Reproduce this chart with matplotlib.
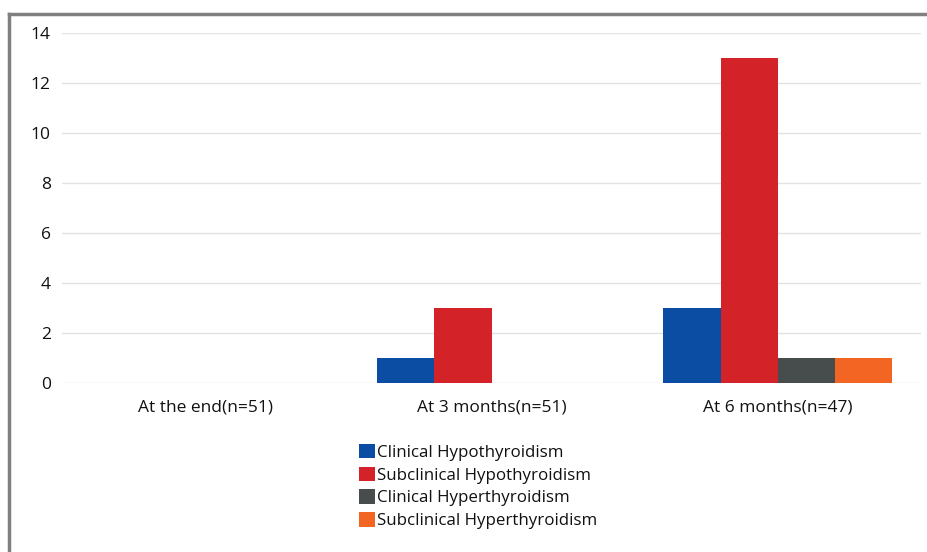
import numpy as np
import matplotlib.pyplot as plt
from matplotlib.lines import Line2D

plt.rcParams['font.family'] = ['Open Sans', 'DejaVu Sans']

categories = ['At the end(n=51)', 'At 3 months(n=51)', 'At 6 months(n=47)']
series = ['Clinical Hypothyroidism', 'Subclinical Hypothyroidism',
          'Clinical Hyperthyroidism', 'Subclinical Hyperthyroidism']
values = [
    [0, 1, 3],
    [0, 3, 13],
    [0, 0, 1],
    [0, 0, 1],
]
colors = ['#0B4DA2', '#D42229', '#474D4D', '#F26522']

fig = plt.figure(figsize=(9.27, 5.52), dpi=100)
ax = fig.add_axes([62/927, 169/552, 859/927, 350/552])

x = np.arange(len(categories))
w = 0.2
for i in range(len(series)):
    ax.bar(x + (i - 1.5)*w, values[i], w, color=colors[i], label=series[i], zorder=3)

ax.set_xlim(-0.5, 2.5)
ax.set_ylim(0, 14)
ax.set_yticks(range(0, 15, 2))
ax.set_xticks(x)
ax.set_xticklabels(categories, fontsize=12.5, color='#111111')
ax.tick_params(axis='y', labelsize=12.5, labelcolor='#111111', length=0, pad=8)
ax.tick_params(axis='x', length=0, pad=12)
ax.grid(axis='y', color='#E3E3E3', linewidth=1, zorder=0)
for s in ax.spines.values():
    s.set_visible(False)

fig.legend(loc='upper left', bbox_to_anchor=(352/927, 1 - 437/552), frameon=False,
           fontsize=12.2, handlelength=0.95, handleheight=0.95, handletextpad=0.15,
           labelspacing=0.33, borderaxespad=0, labelcolor='#111111')

# gray frame on top and left
fig.add_artist(Line2D([9/927, 9/927], [0, 1 - 14/552], color='#808080', lw=2.5,
                      transform=fig.transFigure))
fig.add_artist(Line2D([9/927, 1], [1 - 14/552, 1 - 14/552], color='#808080', lw=2.5,
                      transform=fig.transFigure))

fig.savefig('out.png', dpi=100)
